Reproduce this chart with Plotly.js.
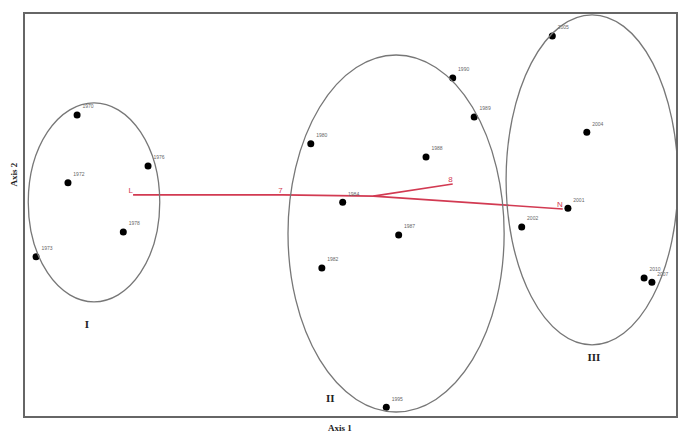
<!DOCTYPE html>
<html>
<head>
<meta charset="utf-8">
<script src="https://cdn.plot.ly/plotly-3.0.1.min.js"></script>
<style>
  html, body { margin: 0; padding: 0; background: #fff; }
  #chart { width: 678px; height: 433px; }
</style>
</head>
<body>
<div id="chart"></div>
<script>
// Years plotted on the first two ordination axes.
var YEARS = ["1970", "1976", "1972", "1978", "1973",
             "1990", "1989", "1980", "1988", "1984", "1987", "1982", "1995",
             "2005", "2004", "2001", "2002", "2010", "2007"];
var AXIS1 = [0.80, 1.89, 0.66, 1.51, 0.17,
             6.57, 6.90, 4.39, 6.16, 4.88, 5.74, 4.56, 5.55,
             8.10, 8.63, 8.34, 7.63, 9.51, 9.63];
var AXIS2 = [7.49, 6.22, 5.80, 4.58, 3.96,
             8.41, 7.44, 6.77, 6.44, 5.32, 4.50, 3.68, 0.22,
             9.45, 7.06, 5.17, 4.70, 3.43, 3.33];

// Group ellipses: bounding box in axis units.
var GROUPS = ["I", "II", "III"];
var GROUP_X0 = [0.05, 4.04, 7.39];
var GROUP_X1 = [2.07, 7.36, 10.03];
var GROUP_Y0 = [2.84, 0.10, 1.77];
var GROUP_Y1 = [7.79, 8.98, 9.98];
var GROUP_LABEL_X = [0.95, 4.69, 8.74];
var GROUP_LABEL_Y = [2.26, 0.42, 1.44];

// Red trajectory: main path and the branch to N.
var PATH_NAMES = ["L", "7", "", "8"];
var PATH_X = [1.66, 3.96, 5.35, 6.57];
var PATH_Y = [5.50, 5.50, 5.47, 5.77];
var BRANCH_NAMES = ["", "N"];
var BRANCH_X = [5.35, 8.26];
var BRANCH_Y = [5.47, 5.15];

var RED = "#d23a52";
var SERIF = "Liberation Serif, DejaVu Serif, serif";

var traces = [
  {
    type: "scatter", mode: "lines+text",
    x: PATH_X, y: PATH_Y, text: PATH_NAMES,
    textposition: "top left",
    textfont: { family: "Liberation Sans, sans-serif", size: 8, color: RED },
    line: { color: RED, width: 1.6 },
    hoverinfo: "skip"
  },
  {
    type: "scatter", mode: "lines+text",
    x: BRANCH_X, y: BRANCH_Y, text: BRANCH_NAMES,
    textposition: "top left",
    textfont: { family: "Liberation Sans, sans-serif", size: 8, color: RED },
    line: { color: RED, width: 1.6 },
    hoverinfo: "skip"
  },
  {
    type: "scatter", mode: "markers+text",
    x: AXIS1, y: AXIS2, text: YEARS,
    textposition: "top right",
    textfont: { family: "Liberation Sans, sans-serif", size: 5, color: "#666" },
    marker: { color: "#000", size: 7 }
  },
  {
    type: "scatter", mode: "text",
    x: GROUP_LABEL_X, y: GROUP_LABEL_Y,
    text: GROUPS.map(function (g) { return "<b>" + g + "</b>"; }),
    textfont: { family: SERIF, size: 11, color: "#222" },
    hoverinfo: "skip"
  }
];

var shapes = GROUPS.map(function (g, i) {
  return {
    type: "circle", xref: "x", yref: "y",
    x0: GROUP_X0[i], x1: GROUP_X1[i], y0: GROUP_Y0[i], y1: GROUP_Y1[i],
    line: { color: "#777", width: 1.3 }
  };
});

var layout = {
  width: 678, height: 433,
  margin: { l: 25, r: 2, t: 14, b: 17 },
  paper_bgcolor: "#fff", plot_bgcolor: "#fff",
  showlegend: false,
  xaxis: {
    range: [0, 10], showgrid: false, zeroline: false, showticklabels: false,
    ticks: "", showline: true, mirror: true, linecolor: "#666", linewidth: 2
  },
  yaxis: {
    range: [0, 10], showgrid: false, zeroline: false, showticklabels: false,
    ticks: "", showline: true, mirror: true, linecolor: "#666", linewidth: 2
  },
  shapes: shapes,
  annotations: [
    { xref: "paper", yref: "paper", x: 0.484, y: -0.012, yanchor: "top",
      text: "<b>Axis 1</b>", showarrow: false,
      font: { family: SERIF, size: 9, color: "#222" } },
    { xref: "paper", yref: "paper", x: -0.028, y: 0.60, textangle: -90,
      text: "<b>Axis 2</b>", showarrow: false,
      font: { family: SERIF, size: 9, color: "#222" } }
  ]
};

Plotly.newPlot("chart", traces, layout, { displayModeBar: false, staticPlot: true });
</script>
</body>
</html>
